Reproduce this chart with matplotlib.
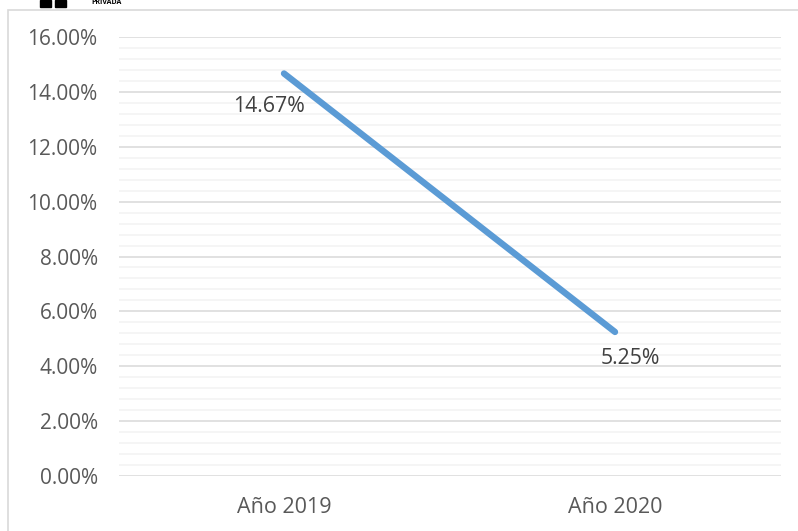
import numpy as np
import matplotlib.pyplot as plt
from matplotlib.patches import Rectangle

# datos
categorias = ["Año 2019", "Año 2020"]
valores = [14.67, 5.25]
etiquetas = ["14.67%", "5.25%"]
ticks_y = [0, 2, 4, 6, 8, 10, 12, 14, 16]

plt.rcParams['font.family'] = ['Open Sans', 'DejaVu Sans']

fig = plt.figure(figsize=(7.98, 5.31), dpi=100)
W, H = 798, 531
ax = fig.add_axes([118.5 / W, 1 - 476 / H, (780.5 - 118.5) / W, (476 - 37) / H])

# cornice del grafico
fig.patches.append(Rectangle((8 / W, -0.1), 1.2, 1 - 10 / H + 0.1, transform=fig.transFigure,
                             fill=False, edgecolor='#d9d9d9', linewidth=1.2))
fig.text(91 / W, 1 - 3 / H, "PRIVADA", fontsize=5, fontweight='bold', color='black',
         ha='left', va='center')
fig.patches.append(Rectangle((40 / W, 1 - 7 / H), 11 / W, 7 / H, transform=fig.transFigure, color='black'))
fig.patches.append(Rectangle((55 / W, 1 - 7 / H), 11 / W, 7 / H, transform=fig.transFigure, color='black'))

x = np.arange(len(categorias))
ax.plot(x, valores, color='#5b9bd5', linewidth=4.6, solid_capstyle='round', zorder=3)

ax.text(x[0] - 0.046, valores[0] - 1.2, etiquetas[0], ha='center', va='center', fontsize=15.3, color='#404040')
ax.text(x[1] + 0.046, valores[1] - 0.95, etiquetas[1], ha='center', va='center', fontsize=15.3, color='#404040')

ax.set_xlim(-0.5, 1.5)
ax.set_ylim(0, 16)
ax.set_yticks(ticks_y)
ax.set_yticklabels([f"{t:.2f}%" for t in ticks_y])
ax.set_yticks(np.arange(0, 16, 0.4), minor=True)
ax.set_xticks(x)
ax.set_xticklabels(categorias)

ax.grid(axis='y', which='major', color='#d9d9d9', linewidth=1.1, zorder=0)
ax.grid(axis='y', which='minor', color='#f2f2f2', linewidth=1.1, zorder=0)
for s in ax.spines.values():
    s.set_visible(False)
ax.tick_params(axis='both', which='both', length=0, labelcolor='#595959')
ax.tick_params(axis='y', labelsize=15, pad=15)
ax.tick_params(axis='x', labelsize=15.5, pad=15)

fig.savefig("out.png", dpi=100)
